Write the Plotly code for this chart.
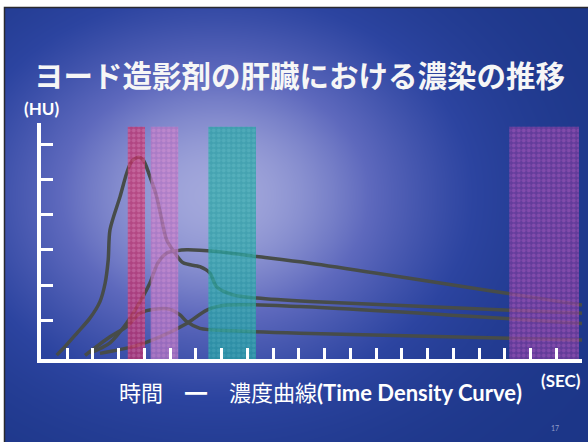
import numpy as np
import plotly.graph_objects as go

# ---- time-density curves (time in ticks, enhancement in HU ticks) ----
curve_a_x = [0.6, 0.92, 1.38, 1.89, 2.28, 2.48, 2.60, 2.67, 3.06, 3.32, 3.51, 3.77, 3.96, 4.22, 4.48,
             4.68, 4.87, 5.19, 5.51, 6.16, 6.55, 6.81, 7.45, 8.37, 10.44, 21.0]
curve_a_y = [0.01, 0.25, 0.63, 1.06, 1.53, 2.05, 2.71, 3.57, 4.51, 5.18, 5.51, 5.63, 5.55, 5.08, 4.51,
             3.85, 3.28, 2.91, 2.63, 2.52, 2.34, 1.95, 1.72, 1.63, 1.53, 1.20]

curve_b_x = [1.90, 2.67, 3.32, 3.83, 4.22, 4.53, 4.88, 5.23, 5.65, 6.81, 8.37, 10.44, 21.0]
curve_b_y = [0.07, 0.36, 0.92, 1.52, 2.06, 2.63, 2.91, 2.97, 3.00, 2.95, 2.81, 2.62, 1.43]

curve_c_x = [1.70, 2.67, 3.32, 3.83, 4.48, 5.0, 5.39, 5.65, 6.16, 7.45, 10.05, 21.0]
curve_c_y = [0.00, 0.53, 0.82, 1.20, 1.32, 1.31, 1.15, 0.96, 0.77, 0.70, 0.63, 0.44]

curve_d_x = [2.28, 3.56, 4.61, 5.65, 6.43, 7.20, 10.05, 21.0]
curve_d_y = [0.06, 0.25, 0.53, 0.91, 1.29, 1.43, 1.39, 0.91]

# ---- scan windows (start, end) ----
phase_names = ["early arterial", "late arterial", "portal", "equilibrium"]
phase_start = [3.36, 4.25, 6.49, 18.18]
phase_end = [4.03, 5.32, 8.34, 20.88]
phase_top = 6.49
phase_color = ["#c42c66", "#b572c2", "#23a3a2", "#7c3c9e"]
phase_dots = ["#f07aa8", "#ee98d6", "#4cc4bc", "#d066cc"]

x_ticks = list(range(1, 22))
y_ticks = list(range(1, 7))

W, H = 588, 442
fig = go.Figure()

# slide background: navy with a soft lavender glow
gx = np.linspace(5, W, 90)
gy = np.linspace(8, H, 70)
GX, GY = np.meshgrid(gx, gy)
glow = np.exp(-(((GX - 215) / 235) ** 2 + ((GY - 195) / 185) ** 2))
fig.add_trace(go.Heatmap(
    x=gx, y=gy, z=glow, xaxis="x", yaxis="y", showscale=False, hoverinfo="skip",
    zsmooth="best", zmin=0, zmax=1,
    colorscale=[[0, "#1b3586"], [0.3, "#2c44a0"], [0.65, "#5e69bd"], [1, "#a2a7db"]],
))

line_style = dict(color="#474c49", width=3.5, shape="spline", smoothing=0.8)
for cx, cy in [(curve_a_x, curve_a_y), (curve_b_x, curve_b_y),
               (curve_c_x, curve_c_y), (curve_d_x, curve_d_y)]:
    fig.add_trace(go.Scatter(x=cx, y=cy, mode="lines", line=line_style,
                             xaxis="x2", yaxis="y2", hoverinfo="skip", showlegend=False))

for name, s, e, c, d in zip(phase_names, phase_start, phase_end, phase_color, phase_dots):
    fig.add_trace(go.Bar(
        x=[(s + e) / 2], y=[phase_top + 0.1], base=[-0.1], width=[e - s], name=name,
        xaxis="x3", yaxis="y3", showlegend=False, hoverinfo="skip",
        marker=dict(color=c, opacity=0.72, line=dict(width=0),
                    pattern=dict(shape=".", fgcolor=d, size=5, solidity=0.45, fillmode="overlay")),
    ))

x0, x1 = 41.25, 582
y_bot, y_top = 359, 123
xdom = [x0 / W, x1 / W]
ydom = [(H - y_bot) / H, (H - y_top) / H]
axis_common = dict(showgrid=False, zeroline=False, showticklabels=False)

fig.update_layout(
    width=W, height=H, margin=dict(l=0, r=0, t=0, b=0),
    paper_bgcolor="white", plot_bgcolor="rgba(0,0,0,0)",
    barmode="overlay", showlegend=False,
    xaxis=dict(domain=[5 / W, 1], range=[5, W], visible=False, fixedrange=True),
    yaxis=dict(domain=[0, (H - 8) / H], range=[H, 8], visible=False, fixedrange=True),
    xaxis2=dict(domain=xdom, range=[0, 21], anchor="y2", showline=True, linecolor="white",
                linewidth=3.5, ticks="inside", tickvals=x_ticks, ticklen=11, tickwidth=3,
                tickcolor="white", **axis_common),
    yaxis2=dict(domain=ydom, range=[-0.1, 6.6], anchor="x2", showline=True, linecolor="white",
                linewidth=3.5, ticks="inside", tickvals=y_ticks, ticklen=12, tickwidth=3,
                tickcolor="white", **axis_common),
    xaxis3=dict(overlaying="x2", range=[0, 21], anchor="y3", visible=False),
    yaxis3=dict(overlaying="y2", range=[-0.1, 6.6], anchor="x3", visible=False),
)

# slide border
fig.add_shape(type="rect", xref="paper", yref="paper", x0=4.5 / W, x1=1.01, y0=-0.01,
              y1=(H - 7.5) / H, line=dict(color="#2a2a30", width=1.5), fillcolor="rgba(0,0,0,0)")


def px_note(text, x, y, size, color="white", family="Noto Sans CJK JP", xanchor="center"):
    fig.add_annotation(text=text, xref="paper", yref="paper", x=x / W, y=1 - y / H,
                       xanchor=xanchor, yanchor="middle", showarrow=False,
                       font=dict(size=size, color=color, family=family))


px_note("<b>ヨード造影剤の肝臓における濃染の推移</b>", 299, 74, 29.5, color="#f6f6f6")
px_note("<b>(HU)</b>", 41, 108, 17, family="Lato, Noto Sans CJK JP")
px_note("<b>(SEC)</b>", 561, 380, 17, family="Lato, Noto Sans CJK JP")
px_note("時間　<span style='font-family:Noto Sans CJK JP'>━</span>　濃度曲線<b>(Time Density Curve)</b>",
        320, 391, 22, family="Lato, Noto Sans CJK JP")
px_note("17", 555, 428, 7, color="#8f9cc8", family="Lato")

fig.write_html("out.html")
